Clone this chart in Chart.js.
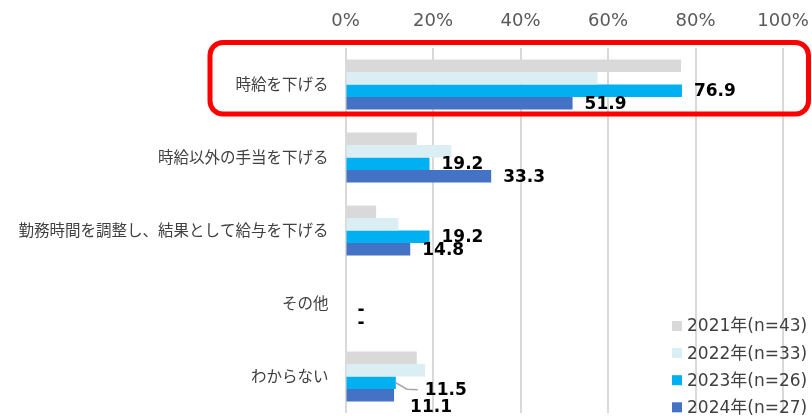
<!DOCTYPE html>
<html>
<head>
<meta charset="utf-8">
<script src="https://cdn.jsdelivr.net/npm/chart.js@4.4.1/dist/chart.umd.min.js"></script>
<style>
  html, body { margin: 0; padding: 0; background: #ffffff; }
  #wrap { width: 812px; height: 416px; position: relative; }
</style>
</head>
<body>
<div id="wrap"><canvas id="c" width="812" height="416"></canvas></div>
<script>
// ---- data ----
const categories = ["時給を下げる", "時給以外の手当を下げる", "勤務時間を調整し、結果として給与を下げる", "その他", "わからない"];
const seriesNames = ["2021年(n=43)", "2022年(n=33)", "2023年(n=26)", "2024年(n=27)"];
const values2021 = [76.7, 16.3, 7.0, 0, 16.3];
const values2022 = [57.6, 24.2, 12.1, 0, 18.2];
const values2023 = [76.9, 19.2, 19.2, 0, 11.5];
const values2024 = [51.9, 33.3, 14.8, 0, 11.1];
const labels2023 = ["76.9", "19.2", "19.2", "-", "11.5"];
const labels2024 = ["51.9", "33.3", "14.8", "-", "11.1"];
const xTicks = [0, 20, 40, 60, 80, 100];

const colors = ["#D9D9D9", "#DAEEF3", "#00B0F0", "#4472C4"];

// special label placement for crowded bars (dataset-index)
const labelShift = { "2-4": { dx: 29, dy: 8, leader: true }, "3-4": { dx: 16, dy: 12 } };

const valueLabelsPlugin = {
  id: 'valueLabels',
  afterDatasetsDraw(chart) {
    const ctx = chart.ctx;
    ctx.save();
    ctx.font = 'bold 17px "DejaVu Sans", sans-serif';
    ctx.fillStyle = '#000000';
    ctx.textAlign = 'left';
    ctx.textBaseline = 'middle';
    chart.data.datasets.forEach((ds, di) => {
      if (!ds.valueLabels) return;
      const meta = chart.getDatasetMeta(di);
      meta.data.forEach((el, i) => {
        const txt = ds.valueLabels[i];
        if (!txt) return;
        const s = labelShift[di + '-' + i] || { dx: 12, dy: 1 };
        const x = el.x, y = el.y;
        if (s.leader) {
          ctx.save();
          ctx.strokeStyle = '#A6A6A6';
          ctx.lineWidth = 1.5;
          ctx.beginPath();
          ctx.moveTo(x, y);
          ctx.lineTo(x + 11, y + 6.5);
          ctx.lineTo(x + 22, y + 7);
          ctx.stroke();
          ctx.restore();
        }
        ctx.fillText(txt, x + s.dx, y + s.dy);
      });
    });
    ctx.restore();
  }
};

const legendAndBoxPlugin = {
  id: 'legendAndBox',
  afterDraw(chart) {
    const ctx = chart.ctx;
    ctx.save();
    // legend
    ctx.font = '17px "DejaVu Sans", "Noto Sans CJK JP", sans-serif';
    ctx.textAlign = 'left';
    ctx.textBaseline = 'middle';
    chart.data.datasets.forEach((ds, i) => {
      const cy = 326 + i * 27.1;
      ctx.fillStyle = ds.backgroundColor;
      ctx.fillRect(672, cy - 5, 10, 10);
      ctx.fillStyle = '#404040';
      ctx.fillText(ds.label, 687, cy + 1);
    });
    // red highlight box around the first category
    const ys = chart.scales.y;
    const cy0 = ys.getPixelForValue(0);
    ctx.strokeStyle = '#FF0000';
    ctx.lineWidth = 5;
    ctx.beginPath();
    ctx.roundRect(210, cy0 - 42, 598.5, 71.5, 13);
    ctx.stroke();
    ctx.restore();
  }
};

const datasets = [values2021, values2022, values2023, values2024].map((vals, i) => ({
  label: seriesNames[i],
  data: vals,
  backgroundColor: colors[i],
  borderWidth: 0,
  categoryPercentage: 0.685,
  barPercentage: 1.0,
  valueLabels: i === 2 ? labels2023 : (i === 3 ? labels2024 : null)
}));

new Chart(document.getElementById('c'), {
  type: 'bar',
  data: { labels: categories, datasets },
  options: {
    indexAxis: 'y',
    responsive: false,
    animation: false,
    layout: { padding: { left: 0, right: 29, top: 0, bottom: 3 } },
    plugins: { legend: { display: false }, tooltip: { enabled: false } },
    scales: {
      x: {
        position: 'top',
        min: 0, max: 100,
        afterFit(s) { s.height = 48; s.paddingLeft = 0; s.paddingRight = 0; s.paddingTop = 0; s.paddingBottom = 0; },
        afterBuildTicks(s) { s.ticks = xTicks.map(v => ({ value: v })); },
        ticks: {
          callback: v => v + '%',
          font: { family: '"DejaVu Sans", sans-serif', size: 18 },
          color: '#595959',
          padding: 16
        },
        grid: { color: '#D9D9D9', lineWidth: 2, drawTicks: false },
        border: { display: false }
      },
      y: {
        afterFit(s) { s.width = 345.5; s.paddingLeft = 0; s.paddingRight = 0; s.paddingTop = 0; s.paddingBottom = 0; },
        ticks: {
          font: { family: '"Noto Sans CJK JP", sans-serif', size: 15.5 },
          color: '#404040',
          padding: 17
        },
        grid: { display: false, drawTicks: false },
        border: { display: false }
      }
    }
  },
  plugins: [valueLabelsPlugin, legendAndBoxPlugin]
});
</script>
</body>
</html>
